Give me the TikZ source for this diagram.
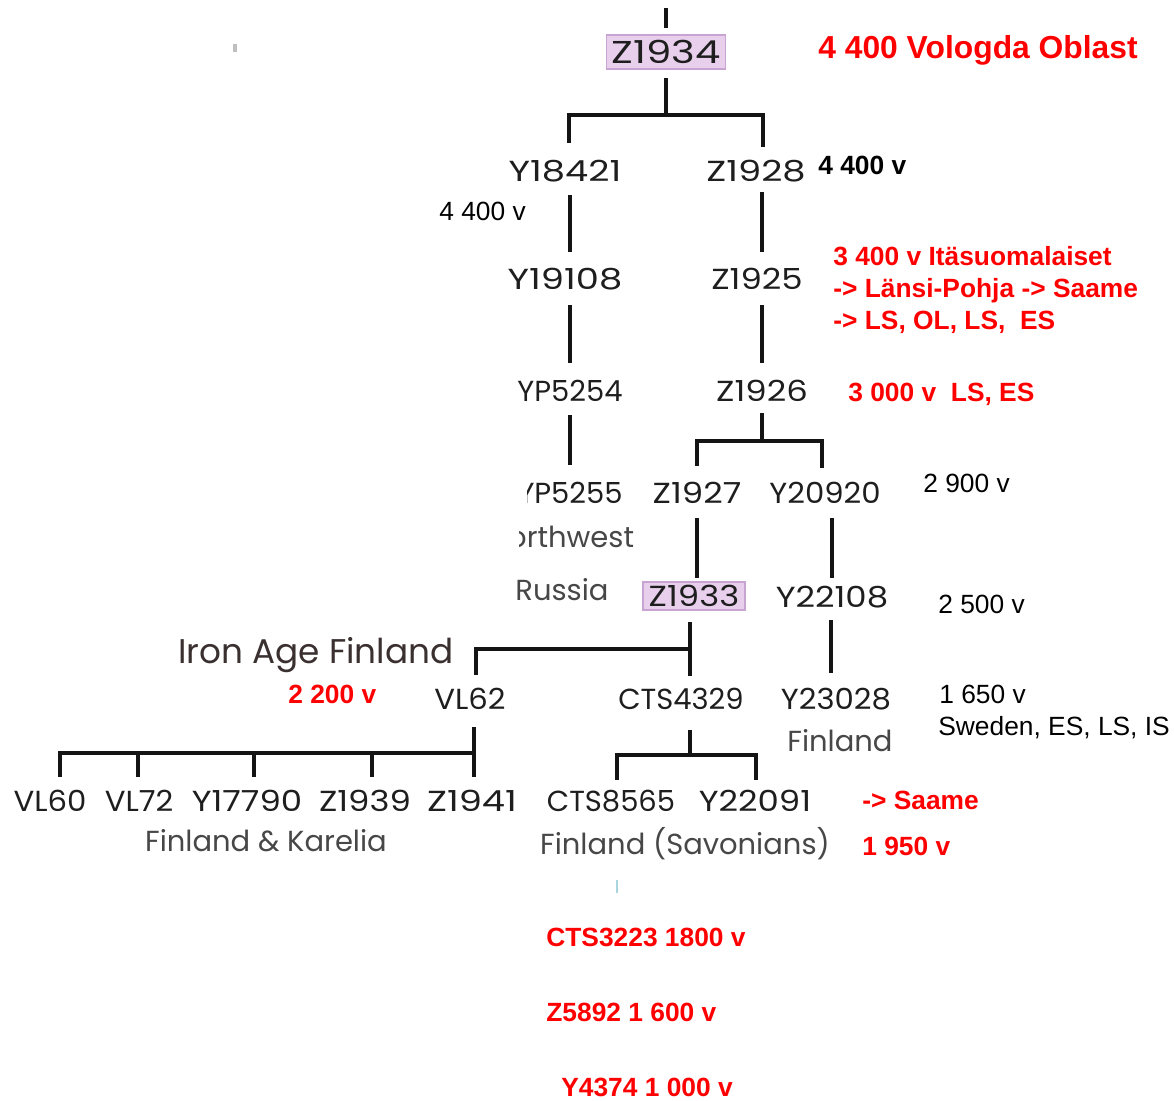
\documentclass[tikz,border=0pt]{standalone}
\usepackage{fontspec}
\setmainfont{Liberation Sans}
\newfontfamily\treefont{Poppins}
\newfontfamily\treefontb[FakeStretch=1.06]{Poppins}
\newfontfamily\treefontc[FakeStretch=1.17]{Poppins}
\newfontfamily\treefontd[FakeStretch=1.27]{Poppins}
\definecolor{boxfill}{HTML}{E8CFEC}
\definecolor{boxline}{HTML}{C9A3D2}
\definecolor{treeink}{HTML}{1E1E1E}
\definecolor{ironink}{HTML}{3A3030}
\definecolor{cyanmark}{HTML}{A9D6DE}
\definecolor{annredcol}{HTML}{FF0000}
\begin{document}
\begin{tikzpicture}[x=0.02cm,y=-0.02cm,
  edge/.style={line width=2.3pt, draw=black!92},
  tlabel/.style={font=\treefont\fontsize{16.5}{18}\selectfont, text=treeink, inner sep=0pt, anchor=base},
  wideb/.style={font=\treefontb\fontsize{16.5}{18}\selectfont},
  widec/.style={font=\treefontc\fontsize{16.5}{18}\selectfont},
  wided/.style={font=\treefontd\fontsize{16.5}{18}\selectfont},
  glabel/.style={tlabel, text=black!72},
  hl/.style={fill=boxfill, draw=boxline, line width=0.8pt, inner sep=0pt, anchor=center, text=treeink},
  ann/.style={font=\fontsize{15}{17}\selectfont, inner sep=0pt, anchor=base west, text=black},
  redann/.style={ann, font=\bfseries\fontsize{15}{17}\selectfont, text=annredcol},
]
\useasboundingbox (0,0) rectangle (1174,1100);

% faint speck
\fill[black!25] (233,44) rectangle (237,52);

% ---------- tree labels ----------
\node[hl, minimum width=2.38cm, minimum height=0.68cm, font=\treefontd\fontsize{18}{20}\selectfont] (z1934) at (666,52) {Z1934};
\node[tlabel, wided] (y18421) at (565,181) {Y18421};
\node[tlabel, wided] (z1928) at (756,181) {Z1928};
\node[tlabel, wided] (y19108) at (565,289) {Y19108};
\node[tlabel, widec] (z1925) at (757,289) {Z1925};
\node[tlabel] (yp5254) at (570,401) {YP5254};
\node[tlabel, widec] (z1926) at (762,401) {Z1926};
\begin{scope}
  \clip (527,470) rectangle (640,520);
  \node[tlabel] (yp5255) at (570,503) {YP5255};
\end{scope}
\begin{scope}
  \clip (519,520) rectangle (645,562);
  \node[glabel] (northwest) at (561,547) {Northwest};
\end{scope}
\node[glabel] (russia) at (562,600) {Russia};
\node[tlabel, widec] (z1927) at (697,503) {Z1927};
\node[tlabel, wideb] (y20920) at (825,503) {Y20920};
\node[hl, minimum width=2.04cm, minimum height=0.56cm, font=\treefontc\fontsize{16.5}{18}\selectfont] (z1933) at (694,596) {Z1933};
\node[tlabel, widec] (y22108) at (832,607) {Y22108};
\node[tlabel, text=ironink, font=\treefont\fontsize{19.5}{21}\selectfont] (ironage) at (316,663) {Iron Age Finland};
\node[tlabel, wideb] (vl62) at (470,709) {VL62};
\node[tlabel] (cts4329) at (681,709) {CTS4329};
\node[tlabel, wideb] (y23028) at (836,709) {Y23028};
\node[glabel] (finland1) at (840,751) {Finland};
\node[tlabel, wideb] (vl60) at (50,811) {VL60};
\node[tlabel, wideb] (vl72) at (139,811) {VL72};
\node[tlabel, widec] (y17790) at (247,811) {Y17790};
\node[tlabel, widec] (z1939) at (365,811) {Z1939};
\node[tlabel, wided] (z1941) at (472,811) {Z1941};
\node[glabel] (finkar) at (266,851) {Finland \& Karelia};
\node[tlabel] (cts8565) at (611,811) {CTS8565};
\node[tlabel, widec] (y22091) at (755,811) {Y22091};
\node[glabel] (finsav) at (685,854) {Finland (Savonians)};

% ---------- connector end points ----------
\coordinate (a0) at (666,8);    \coordinate (a1) at (666,28);
\coordinate (b0) at (666,78);   \coordinate (bj) at (666,115);
\coordinate (bl) at (569,143);  \coordinate (br) at (763,147);
\coordinate (c0) at (570,195);  \coordinate (c1) at (570,252);
\coordinate (d0) at (762,192);  \coordinate (d1) at (762,252);
\coordinate (e0) at (570,305);  \coordinate (e1) at (570,363);
\coordinate (f0) at (762,305);  \coordinate (f1) at (762,363);
\coordinate (g0) at (570,415);  \coordinate (g1) at (570,465);
\coordinate (h0) at (762,413);  \coordinate (hj) at (762,441);
\coordinate (hl) at (697,466);  \coordinate (hr) at (822,468);
\coordinate (i0) at (697,518);  \coordinate (i1) at (697,578);
\coordinate (j0) at (832,518);  \coordinate (j1) at (832,578);
\coordinate (k0) at (690,622);  \coordinate (kj) at (690,649);
\coordinate (k1) at (690,676);  \coordinate (kl) at (476,675);
\coordinate (l0) at (831,620);  \coordinate (l1) at (831,673);
\coordinate (m0) at (474,727);  \coordinate (mj) at (474,753);
\coordinate (m1) at (474,777);
\coordinate (t1) at (60,777);   \coordinate (t2) at (138,777);
\coordinate (t3) at (254,777);  \coordinate (t4) at (372,777);
\coordinate (n0) at (690,730);  \coordinate (nj) at (690,755);
\coordinate (nl) at (617,780);  \coordinate (nr) at (756,780);
\coordinate (q0) at (617,880);  \coordinate (q1) at (617,893);

% ---------- connectors ----------
\draw[edge] (a0) -- (a1);
\draw[edge] (b0) -- (bj);
\draw[edge] (bl) |- (bj) -| (br);
\draw[edge] (c0) -- (c1);
\draw[edge] (d0) -- (d1);
\draw[edge] (e0) -- (e1);
\draw[edge] (f0) -- (f1);
\draw[edge] (g0) -- (g1);
\draw[edge] (h0) -- (hj);
\draw[edge] (hl) |- (hj) -| (hr);
\draw[edge] (i0) -- (i1);
\draw[edge] (j0) -- (j1);
\draw[edge] (k0) -- (k1);
\draw[edge] (kl) |- (kj);
\draw[edge] (l0) -- (l1);
\draw[edge] (m0) -- (m1);
\draw[edge] (t1) |- (mj);
\draw[edge] (t2) -- (t2 |- mj);
\draw[edge] (t3) -- (t3 |- mj);
\draw[edge] (t4) -- (t4 |- mj);
\draw[edge] (n0) -- (nj);
\draw[edge] (nl) |- (nj) -| (nr);
\draw[draw=cyanmark, line width=1pt] (q0) -- (q1);

% ---------- annotations ----------
\node[redann, font=\bfseries\fontsize{18.1}{20}\selectfont] (vologda) at (818,58) {4 400 Vologda Oblast};
\node[ann, font=\bfseries\fontsize{15}{17}\selectfont] (a4400b) at (818,174) {4 400 v};
\node[ann] (a4400) at (439,220) {4 400 v};
\node[redann] (r3400) at (833,265) {3 400 v Itäsuomalaiset};
\node[redann] (rlansi) at (833,297) {-> Länsi-Pohja -> Saame};
\node[redann] (rls) at (833,329) {-> LS, OL, LS,\ \ ES};
\node[redann] (r3000) at (848,401) {3 000 v\ \ LS, ES};
\node[ann] (a2900) at (923,492) {2 900 v};
\node[ann] (a2500) at (938,613) {2 500 v};
\node[redann] (r2200) at (288,703) {2 200 v};
\node[ann] (a1650) at (939,703) {1 650 v};
\node[ann] (asweden) at (938,735) {Sweden, ES, LS, IS};
\node[redann] (rsaame) at (862,809) {-> Saame};
\node[redann] (r1950) at (862,855) {1 950 v};
\node[redann] (rcts3223) at (546,946) {CTS3223 1800 v};
\node[redann] (rz5892) at (546,1021) {Z5892 1 600 v};
\node[redann] (ry4374) at (561,1096) {Y4374 1 000 v};
\end{tikzpicture}
\end{document}
